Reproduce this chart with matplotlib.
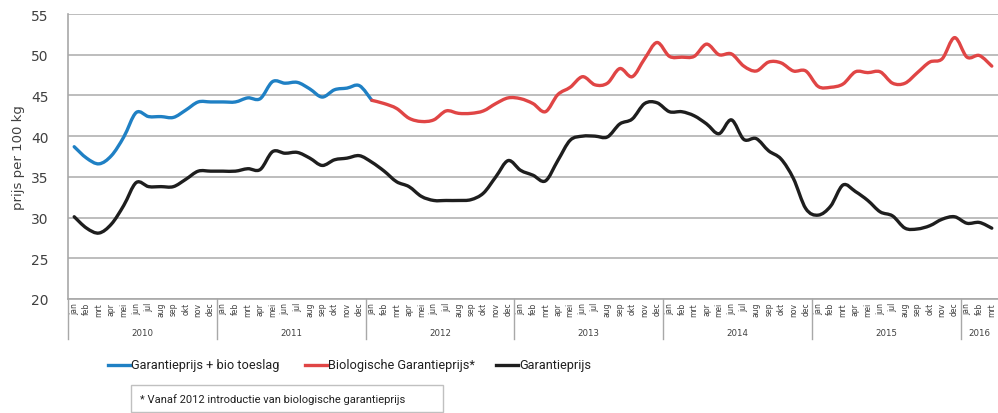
import matplotlib
matplotlib.use("Agg")
import matplotlib.pyplot as plt
from matplotlib.path import Path
from matplotlib.patches import PathPatch, Rectangle
from matplotlib.lines import Line2D
from matplotlib.transforms import blended_transform_factory
import numpy as np

months = ["jan", "feb", "mrt", "apr", "mei", "jun", "jul", "aug", "sep", "okt", "nov", "dec"]
years = ["2010", "2011", "2012", "2013", "2014", "2015", "2016"]
months_per_year = [12, 12, 12, 12, 12, 12, 3]

# Garantieprijs + bio toeslag (jan 2010 - jan 2012)
bio_toeslag = [38.7, 37.3, 36.6, 37.6, 39.9, 42.9, 42.4, 42.4, 42.3, 43.2, 44.2, 44.2,
               44.2, 44.2, 44.7, 44.6, 46.7, 46.5, 46.6, 45.8, 44.8, 45.7, 45.9, 46.2,
               44.4]
# Biologische Garantieprijs* (jan 2012 - mrt 2016)
bio_garantie = [44.4, 44.0, 43.4, 42.2, 41.8, 42.0, 43.1, 42.8, 42.8, 43.1, 44.0, 44.7,
                44.6, 44.0, 43.0, 45.1, 46.0, 47.3, 46.3, 46.5, 48.3, 47.3, 49.5, 51.5,
                49.8, 49.7, 49.8, 51.3, 50.0, 50.1, 48.6, 48.0, 49.1, 49.0, 48.0, 48.0,
                46.1, 46.0, 46.4, 47.9, 47.8, 47.9, 46.5, 46.5, 47.8, 49.1, 49.5, 52.1,
                49.7, 49.9, 48.6]
# Garantieprijs (jan 2010 - mrt 2016)
garantie = [30.1, 28.7, 28.1, 29.2, 31.5, 34.3, 33.8, 33.8, 33.8, 34.7, 35.7, 35.7,
            35.7, 35.7, 36.0, 35.9, 38.1, 37.9, 38.0, 37.3, 36.4, 37.1, 37.3, 37.6,
            36.8, 35.7, 34.4, 33.8, 32.6, 32.1, 32.1, 32.1, 32.2, 33.0, 35.0, 37.0,
            35.8, 35.2, 34.5, 37.0, 39.5, 40.0, 40.0, 39.9, 41.5, 42.1, 44.0, 44.1,
            43.0, 43.0, 42.5, 41.5, 40.3, 42.0, 39.6, 39.7, 38.2, 37.2, 34.8, 31.1,
            30.3, 31.4, 34.0, 33.2, 32.1, 30.7, 30.2, 28.7, 28.6, 29.0, 29.8, 30.1,
            29.3, 29.4, 28.7]

bio_toeslag_start = 0
bio_garantie_start = 24

C_BLUE = "#1f80c4"
C_RED = "#e04545"
C_BLACK = "#1e1e1e"
GRID = "#b8b8b8"
TXT = "#404040"

NARROW = ["Roboto", "DejaVu Sans"]


def smooth_path(x, y):
    x = list(x); y = list(y)
    verts = [(x[0], y[0])]
    codes = [Path.MOVETO]
    n = len(x)
    for i in range(n - 1):
        p0 = i - 1 if i > 0 else i
        p3 = i + 2 if i + 2 < n else i + 1
        c1 = (x[i] + (x[i + 1] - x[p0]) / 6.0, y[i] + (y[i + 1] - y[p0]) / 6.0)
        c2 = (x[i + 1] - (x[p3] - x[i]) / 6.0, y[i + 1] - (y[p3] - y[i]) / 6.0)
        verts += [c1, c2, (x[i + 1], y[i + 1])]
        codes += [Path.CURVE4] * 3
    return Path(verts, codes)


W, H = 998, 414
fig = plt.figure(figsize=(W / 100, H / 100), dpi=100)
ax = fig.add_axes([68 / W, 1 - 300 / H, (998 - 68) / W, (300 - 15) / H])

n_total = sum(months_per_year)
ax.set_xlim(-0.5, n_total - 0.5)
ax.set_ylim(20, 55)

for data, start, col in [(garantie, 0, C_BLACK),
                         (bio_toeslag, bio_toeslag_start, C_BLUE),
                         (bio_garantie, bio_garantie_start, C_RED)]:
    xs = np.arange(start, start + len(data))
    p = smooth_path(xs, data)
    ax.add_patch(PathPatch(p, fill=False, edgecolor=col, lw=2.4,
                           capstyle="round", joinstyle="round", zorder=3))

ax.set_yticks(np.arange(20, 56, 5))
ax.tick_params(axis="y", length=0, pad=14, labelsize=10, labelcolor=TXT)
ax.yaxis.grid(True, color=GRID, lw=1.3)
ax.set_axisbelow(True)
ax.set_ylabel("prijs per 100 kg", fontsize=9.5, color=TXT, labelpad=4)

month_labels = []
for ny in months_per_year:
    month_labels += months[:ny]
ax.set_xticks(np.arange(n_total))
ax.set_xticklabels(month_labels, rotation=90, fontsize=5.5, color=TXT)
ax.tick_params(axis="x", length=0, pad=2)

for s in ["top", "right"]:
    ax.spines[s].set_visible(False)
ax.spines["left"].set_color("#a8a8a8")
ax.spines["bottom"].set_color("#a8a8a8")
ax.spines["left"].set_linewidth(1.2)
ax.spines["bottom"].set_linewidth(1.2)

trans = blended_transform_factory(ax.transData, ax.transAxes)
pos = -0.5
bounds = [pos]
for yr, ny in zip(years, months_per_year):
    ax.text(pos + ny / 2.0, -0.118, yr, transform=trans, ha="center", va="center",
            fontsize=6.2, color=TXT)
    pos += ny
    bounds.append(pos)
for b in bounds[:-1]:
    ax.add_line(Line2D([b, b], [0, -40 / 285], transform=trans, color="#a8a8a8",
                       lw=1.0, clip_on=False))

# legend
legend_items = [("Garantieprijs + bio toeslag", C_BLUE, 108),
                ("Biologische Garantieprijs*", C_RED, 305),
                ("Garantieprijs", C_BLACK, 496)]
ly = 1 - 366 / H
for label, col, x0 in legend_items:
    fig.add_artist(Line2D([x0 / W, (x0 + 22) / W], [ly, ly], color=col, lw=2.4,
                          transform=fig.transFigure))
    fig.text((x0 + 23) / W, ly, label, ha="left", va="center", fontsize=9.2,
             family=NARROW, color="#202020")

# note box
fig.add_artist(Rectangle((131 / W, 1 - 413 / H), (443 - 131) / W, 27 / H,
                         transform=fig.transFigure, fill=False, edgecolor="#c0c0c0", lw=1))
fig.text(140 / W, 1 - 400 / H, "* Vanaf 2012 introductie van biologische garantieprijs",
         ha="left", va="center", fontsize=8.0, family=NARROW, color="#202020")

fig.savefig("out.png", dpi=100)
